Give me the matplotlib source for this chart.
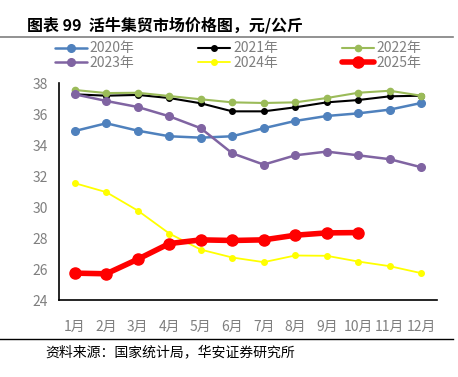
import matplotlib.pyplot as plt
from matplotlib.lines import Line2D

plt.rcParams['font.family'] = ['Noto Sans CJK SC', 'DejaVu Sans']

months = ['1月', '2月', '3月', '4月', '5月', '6月', '7月', '8月', '9月', '10月', '11月', '12月']
y2020 = [34.92, 35.42, 34.94, 34.58, 34.49, 34.58, 35.10, 35.57, 35.89, 36.06, 36.30, 36.73]
y2021 = [37.29, 37.20, 37.25, 37.05, 36.71, 36.19, 36.19, 36.45, 36.77, 36.92, 37.16, 37.20]
y2022 = [37.57, 37.37, 37.39, 37.18, 36.97, 36.77, 36.73, 36.77, 37.05, 37.39, 37.52, 37.20]
y2023 = [37.29, 36.86, 36.47, 35.87, 35.10, 33.48, 32.75, 33.35, 33.59, 33.35, 33.10, 32.58]
y2024 = [31.55, 30.97, 29.78, 28.30, 27.26, 26.75, 26.45, 26.88, 26.86, 26.49, 26.19, 25.74]
y2025 = [25.74, 25.70, 26.64, 27.65, 27.89, 27.85, 27.89, 28.19, 28.34, 28.36]

x = list(range(1, 13))

fig = plt.figure(figsize=(4.58, 3.77), dpi=100)
ax = fig.add_axes([0.129, 0.204, 0.825, 0.575])

# series: (label, values, colour, line width, marker size)
series = [
    ('2020年', y2020, '#4F81BD', 1.8, 5.5),
    ('2021年', y2021, '#000000', 1.5, 4),
    ('2022年', y2022, '#9BBB59', 1.5, 4.5),
    ('2023年', y2023, '#8064A2', 1.8, 5.5),
    ('2024年', y2024, '#FFFF00', 1.3, 4),
    ('2025年', y2025, '#FF0000', 4.0, 8),
]

handles = {}
for lab, vals, col, lw, ms in series:
    ln, = ax.plot(x[:len(vals)], vals, color=col, lw=lw, marker='o', ms=ms,
                  label=lab, solid_capstyle='round')
    handles[lab] = ln

ax.set_xlim(0.5, 12.5)
ax.set_ylim(24, 38)
ax.set_yticks(range(24, 39, 2))
ax.set_xticks(x)
ax.set_xticklabels(months)
ax.tick_params(length=0, labelsize=10, labelcolor='#7F7F7F')
ax.tick_params(axis='x', pad=14)
ax.tick_params(axis='y', pad=8)
for s in ['top', 'right']:
    ax.spines[s].set_visible(False)
for s in ['left', 'bottom']:
    ax.spines[s].set_color('#000000')
    ax.spines[s].set_linewidth(1.2)

order = ['2020年', '2023年', '2021年', '2024年', '2022年', '2025年']
fig.legend([handles[k] for k in order], order, ncol=3, frameon=False,
           loc='center', bbox_to_anchor=(0.52, 0.852), fontsize=10,
           labelcolor='#7F7F7F', handlelength=2.3, handletextpad=0.2,
           columnspacing=4.6, labelspacing=0.05, borderpad=0)

fig.text(0.059, 0.933, '图表 99  活牛集贸市场价格图，元/公斤', fontsize=11.5,
         fontweight='bold', va='center', ha='left')
fig.add_artist(Line2D([0, 0.99], [0.903, 0.903], color='#7F7F7F', lw=1.2))
fig.add_artist(Line2D([0, 0.99], [0.101, 0.101], color='#000000', lw=1.0))
fig.text(0.098, 0.066, '资料来源：国家统计局，华安证券研究所', fontsize=10,
         va='center', ha='left')

fig.savefig('out.png', dpi=100)
